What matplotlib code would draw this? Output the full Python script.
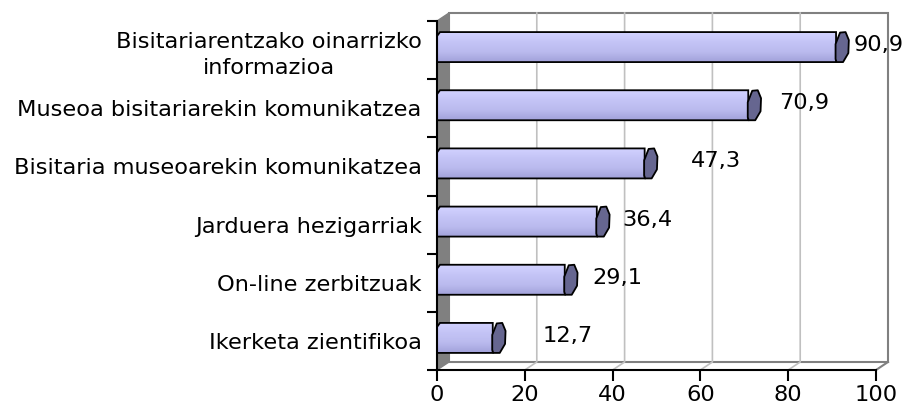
import matplotlib
matplotlib.use('Agg')
from matplotlib import pyplot as plt
from matplotlib.patches import Polygon, Rectangle
from matplotlib.colors import LinearSegmentedColormap
import numpy as np

# chart data (top to bottom as shown)
categories = ['Bisitariarentzako oinarrizko\ninformazioa',
              'Museoa bisitariarekin komunikatzea',
              'Bisitaria museoarekin komunikatzea',
              'Jarduera hezigarriak',
              'On-line zerbitzuak',
              'Ikerketa zientifikoa']
values = [90.9, 70.9, 47.3, 36.4, 29.1, 12.7]
value_labels = ['90,9', '70,9', '47,3', '36,4', '29,1', '12,7']
x_ticks = [0, 20, 40, 60, 80, 100]

# where the value labels start (x in data units), as placed in the original
label_x = [94.8, 77.9, 57.9, 42.1, 35.5, 24.1]

font = 'DejaVu Sans'
fs = 16.2

fig = plt.figure(figsize=(9.03, 4.08), dpi=100)
W, H = 903, 408
# front frame of the plot area in pixels
x0, x1, ytop, ybot = 437, 876, 21, 370
ax = fig.add_axes([x0 / W, (H - ybot) / H, (x1 - x0) / W, (ybot - ytop) / H])
ax.set_xlim(0, 100)
ax.set_ylim(0, 6)

px_x = (x1 - x0) / 100.0      # pixels per x unit
px_y = (ybot - ytop) / 6.0    # pixels per category
dx = 12 / px_x                # depth offset
dy = 8 / px_y

wall_gray = '#808080'
grid_gray = '#c0c0c0'

# left side wall
ax.add_patch(Polygon([(0, 0), (dx, dy), (dx, 6 + dy), (0, 6)], closed=True,
                     facecolor=wall_gray, edgecolor=wall_gray, lw=1, clip_on=False, zorder=1))
# back wall
ax.add_patch(Rectangle((dx, dy), 100, 6, facecolor='white', edgecolor=wall_gray,
                       lw=1.5, clip_on=False, zorder=0.5))
# floor edges
ax.plot([100, 100 + dx], [0, dy], color=wall_gray, lw=1.5, clip_on=False, zorder=1)
# gridlines on floor and back wall
for t in x_ticks[1:-1]:
    ax.plot([t, t + dx, t + dx], [0, dy, 6 + dy], color=grid_gray, lw=1.2,
            clip_on=False, zorder=0.8)

# bars
cmap = LinearSegmentedColormap.from_list('bar', ['#a2a2da', '#babaee', '#c4c4f6', '#d2d2ff'])
grad = np.linspace(0, 1, 64).reshape(-1, 1)
half = 15 / px_y
bevel_x, bevel_y = 3 / px_x, 4 / px_y
# end cap outline, pixels from the bottom-right corner of the bar body
cap = [(0.5, 0), (-0.5, 3), (-0.5, 18), (4, 29.5), (9.5, 30), (12.8, 22),
       (12.3, 9), (7, 0)]

n = len(categories)
for i, (v, lab, lx) in enumerate(zip(values, value_labels, label_x)):
    yc = n - 1 - i + 0.5 + 3 / px_y
    yb, yt = yc - half, yc + half
    body = Polygon([(0, yb), (0, yt - bevel_y), (bevel_x, yt), (v, yt), (v, yb)],
                   closed=True, facecolor='none', edgecolor='black', lw=1.3, zorder=4)
    ax.add_patch(body)
    im = ax.imshow(grad, cmap=cmap, aspect='auto', extent=(0, v, yb, yt),
                   origin='lower', zorder=3, interpolation='bilinear')
    im.set_clip_path(body)
    ax.add_patch(Polygon([(v + cx / px_x, yb + cy / px_y) for cx, cy in cap], closed=True,
                         facecolor='#666690', edgecolor='black', lw=1.3,
                         joinstyle='round', zorder=5, clip_on=False))
    ax.text(lx, yc + 2 / px_y, lab, ha='left', va='center', fontsize=fs, fontname=font,
            zorder=6, clip_on=False)

ax.set_xlim(0, 100)
ax.set_ylim(0, 6)

# axes
for s in ['top', 'right']:
    ax.spines[s].set_visible(False)
for s in ['left', 'bottom']:
    ax.spines[s].set_linewidth(1.5)
    ax.spines[s].set_zorder(7)
ax.set_xticks(x_ticks)
ax.set_xticklabels([str(t) for t in x_ticks], fontsize=fs, fontname=font)
ax.tick_params(axis='x', direction='out', length=8, width=1.5, pad=3)
ax.set_yticks(np.arange(0, 7), minor=True)
ax.set_yticks(np.arange(n) + 0.5)
ax.set_yticklabels(categories[::-1], fontsize=fs, fontname=font, multialignment='center',
                   linespacing=1.4)
ax.tick_params(axis='y', which='major', length=0, pad=11)
ax.tick_params(axis='y', which='minor', direction='out', length=7, width=1.5)

fig.savefig('out.png', dpi=100)
